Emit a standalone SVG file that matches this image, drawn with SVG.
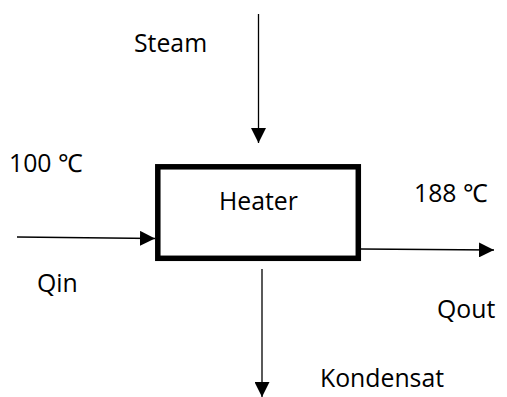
<svg xmlns="http://www.w3.org/2000/svg" width="507" height="397" viewBox="0 0 507 397">
<defs>
<style>
text{font-family:"Open Sans","Liberation Sans",sans-serif;font-size:24.8px;fill:#000}
.ln{stroke:#000;stroke-width:1.3;fill:none}
.box{stroke:#000;stroke-width:5.5;fill:#fff}
</style>
<marker id="ah" markerWidth="15" markerHeight="15" refX="15" refY="7.5" orient="auto" markerUnits="userSpaceOnUse">
<path d="M0,0 L15,7.5 L0,15 Z" fill="#000"/>
</marker>
</defs>
<rect width="507" height="397" fill="#fff"/>
<g id="connectors">
<line class="ln" x1="258.5" y1="14" x2="258.5" y2="143" marker-end="url(#ah)"/>
<line class="ln" x1="17" y1="237" x2="155" y2="238.5" marker-end="url(#ah)"/>
<line class="ln" x1="361" y1="249" x2="494" y2="250" marker-end="url(#ah)"/>
<line class="ln" x1="262" y1="269" x2="262" y2="397" marker-end="url(#ah)"/>
</g>
<g id="heater">
<rect class="box" x="157.8" y="166.8" width="200.5" height="91.5"/>
<text x="219" y="210">Heater</text>
</g>
<g id="labels">
<text x="134" y="52">Steam</text>
<text x="9" y="172">100 ℃</text>
<text x="37" y="292">Qin</text>
<text x="414" y="202">188 ℃</text>
<text x="437" y="318">Qout</text>
<text x="320" y="387">Kondensat</text>
</g>
</svg>
